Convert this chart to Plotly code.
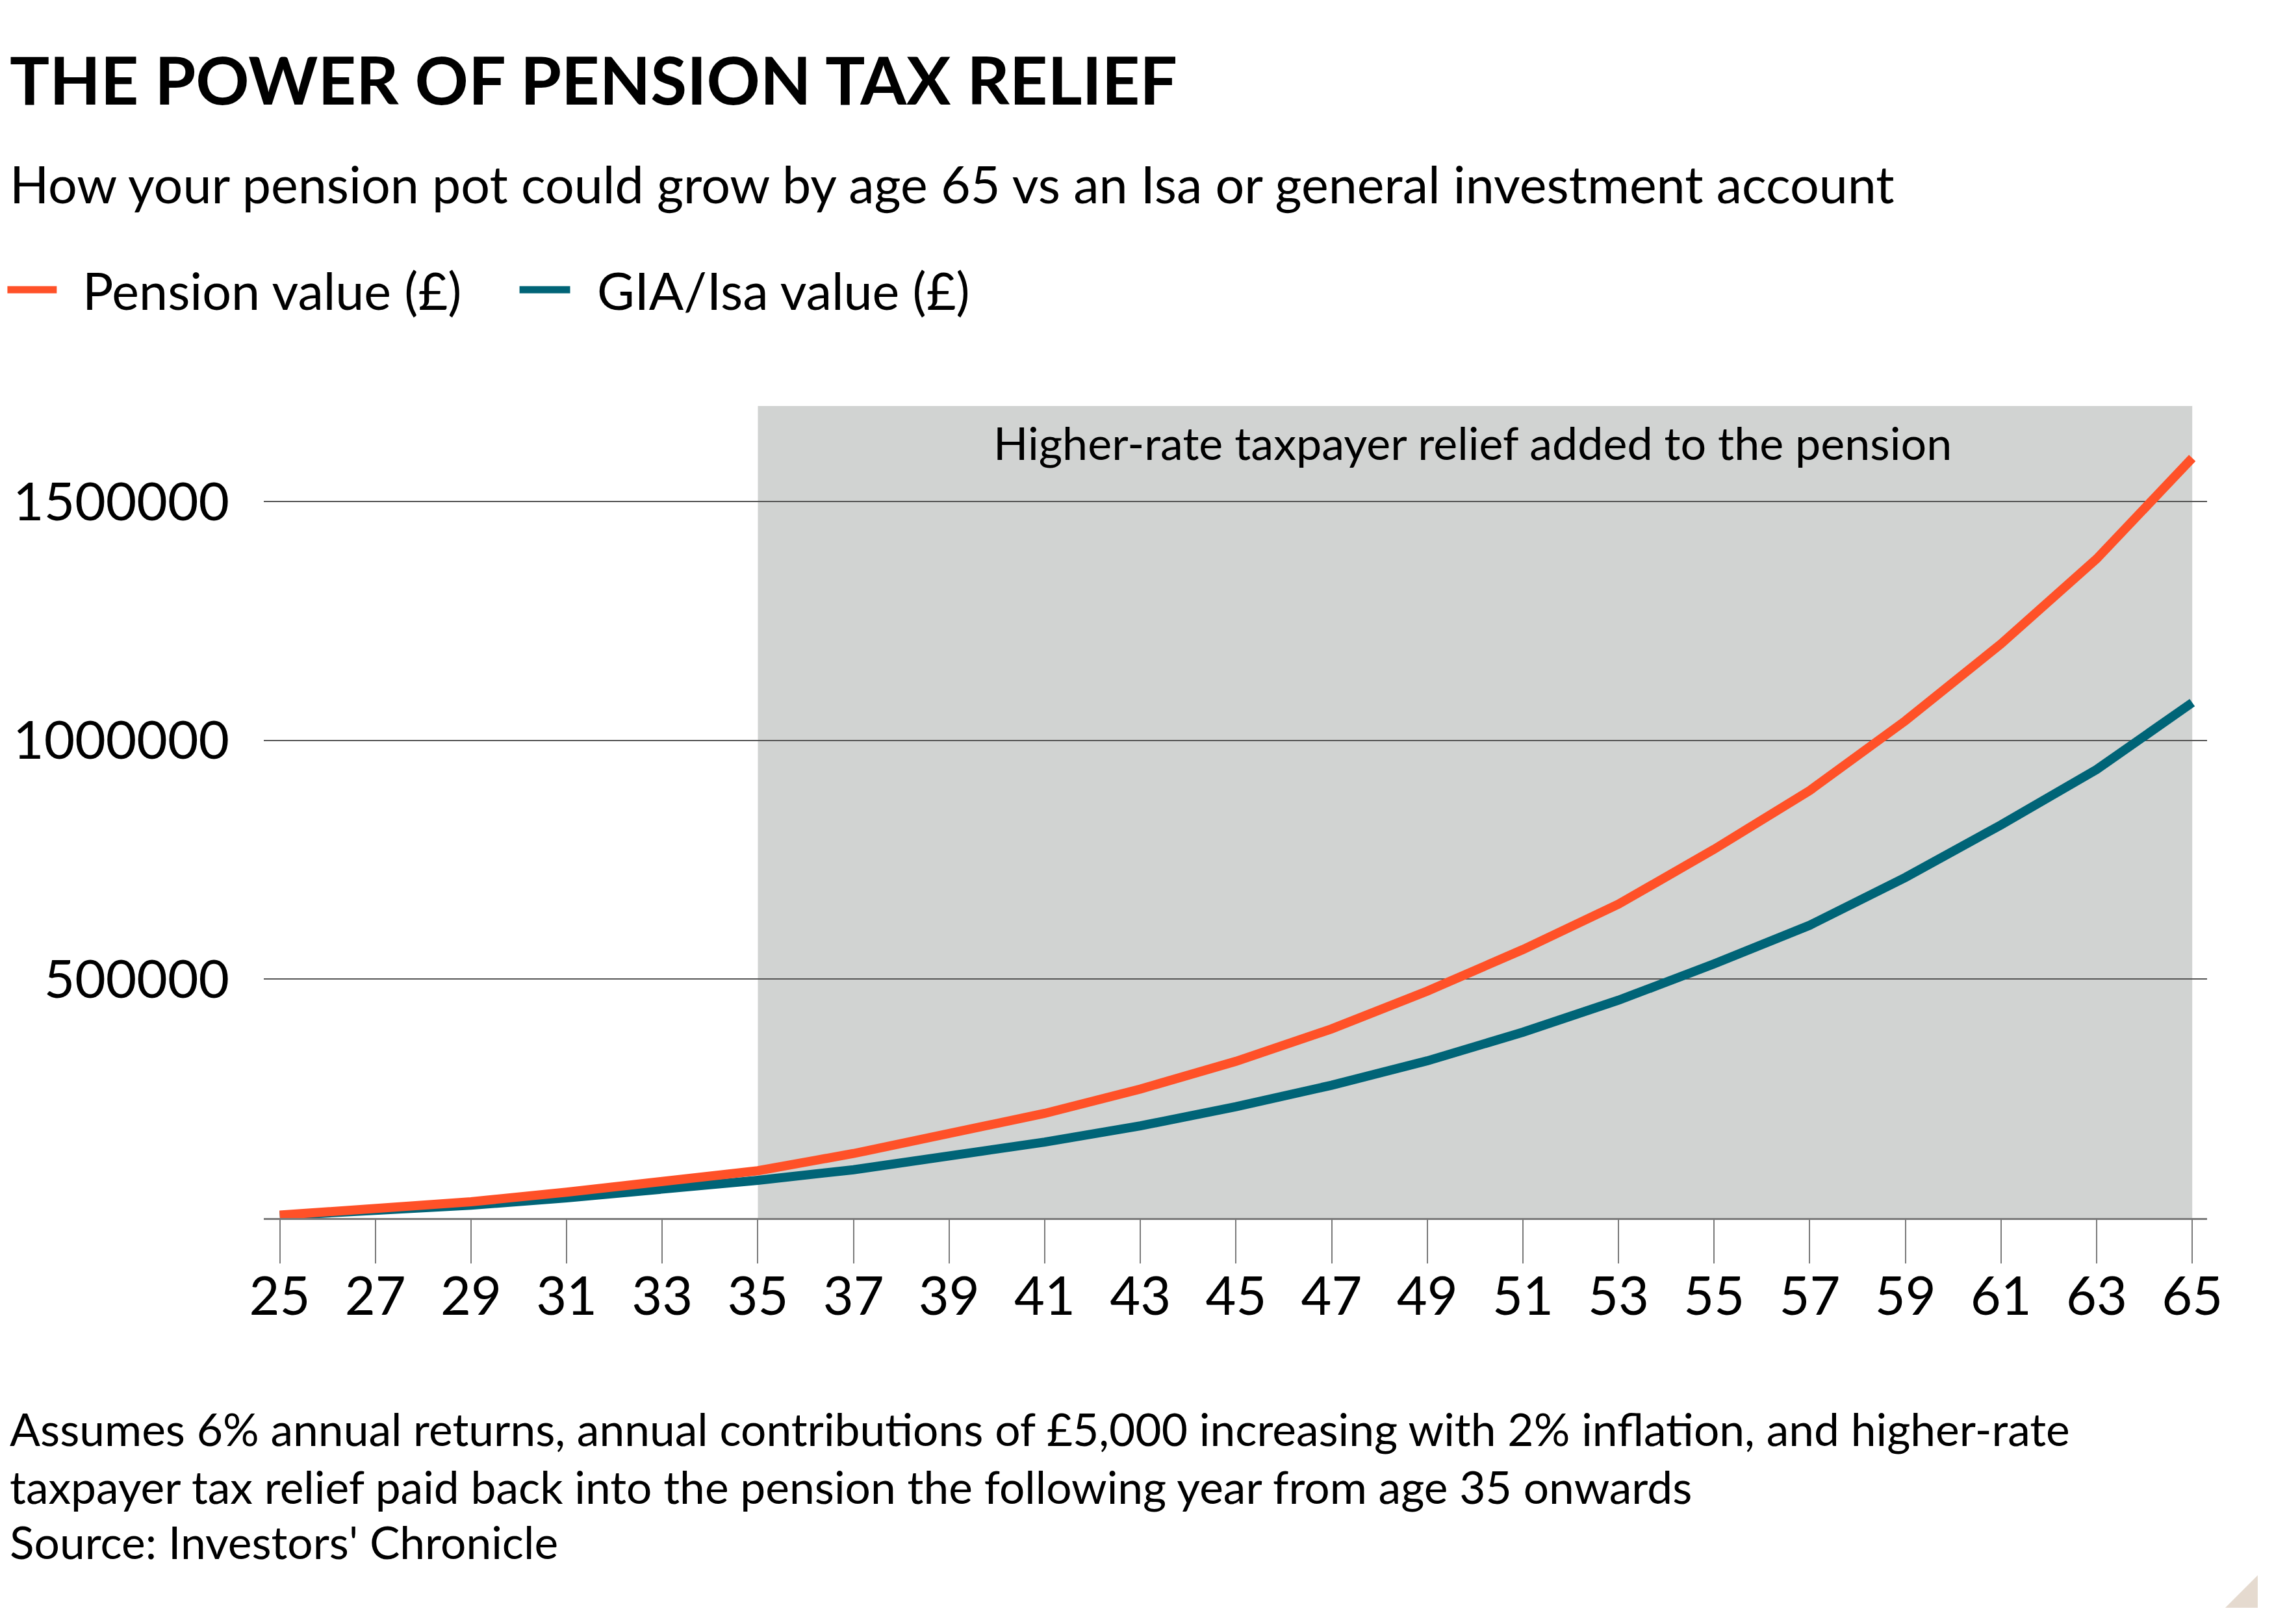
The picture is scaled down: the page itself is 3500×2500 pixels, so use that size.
import plotly.graph_objs as go

ages = [25, 27, 29, 31, 33, 35, 37, 39, 41, 43, 45, 47, 49, 51, 53, 55, 57, 59, 61, 63, 65]
pension = [6000, 18000, 34000, 54000, 76000, 99000, 135000, 175000, 219000, 270000, 328000,
           396000, 475000, 562000, 657000, 772000, 895000, 1041000, 1202000, 1380000, 1591000]
gia = [5000, 14000, 27000, 42000, 60000, 79000, 101000, 128000, 159000, 193000, 233000,
       278000, 329000, 389000, 456000, 532000, 613000, 713000, 823000, 939000, 1079000]
names = ["Pension value (£)", "GIA/Isa value (£)"]
colors = ["#ff5128", "#006477"]
yticks = [500000, 1000000, 1500000]

# the page body has an 8px margin, so the figure is drawn 8px in from the window edge
OFF = 8
FW, FH = 3500 - 2 * OFF, 2500 - 2 * OFF

# plot area in window pixels
L, R, T, B = 403, 3397, 625, 1875
W, H = R - L, B - T

def px(x):
    return (x - L) / W

def py(y):
    return (B - y) / H

sans = "Lato"
LEFT = OFF + 2  # left edge for the texts (keeps them inside the figure)

fig = go.Figure()
fig.add_trace(go.Scatter(x=ages, y=gia, mode="lines", name=names[1],
                         line=dict(color=colors[1], width=14)))
fig.add_trace(go.Scatter(x=ages, y=pension, mode="lines", name=names[0],
                         line=dict(color=colors[0], width=14)))

shapes = [
    dict(type="rect", xref="x", yref="paper", x0=35, x1=65, y0=0, y1=1,
         fillcolor="#d1d3d2", line=dict(width=0), layer="below"),
    dict(type="line", xref="paper", yref="paper", x0=px(OFF), x1=px(84), y0=py(446), y1=py(446),
         line=dict(color=colors[0], width=11)),
    dict(type="line", xref="paper", yref="paper", x0=px(797), x1=px(875), y0=py(446), y1=py(446),
         line=dict(color=colors[1], width=11)),
    dict(type="path", xref="paper", yref="paper",
         path="M %f,%f L %f,%f L %f,%f Z" % (px(3425), py(2475), px(3475), py(2475), px(3475), py(2425)),
         fillcolor="#e5dacf", line=dict(width=0)),
]

annotations = [
    dict(text="<b>THE POWER OF PENSION TAX RELIEF</b>", x=px(LEFT), y=py(122), xanchor="left", yanchor="middle",
         font=dict(family=sans, size=102, color="#000000")),
    dict(text="How your pension pot could grow by age 65 vs an Isa or general investment account",
         x=px(LEFT), y=py(283), xanchor="left", yanchor="middle",
         font=dict(family=sans, size=79, color="#000000")),
    dict(text=names[0], x=px(122), y=py(446), xanchor="left", yanchor="middle",
         font=dict(family=sans, size=79, color="#000000")),
    dict(text=names[1], x=px(915), y=py(446), xanchor="left", yanchor="middle",
         font=dict(family=sans, size=79, color="#000000")),
    dict(text="Higher-rate taxpayer relief added to the pension", x=px(2265), y=py(681),
         xanchor="center", yanchor="middle",
         font=dict(family=sans, size=70, color="#000000")),
    dict(text="Assumes 6% annual returns, annual contributions of £5,000 increasing with 2% inflation, and higher-rate",
         x=px(LEFT), y=py(2199), xanchor="left", yanchor="middle",
         font=dict(family=sans, size=69.5, color="#000000")),
    dict(text="taxpayer tax relief paid back into the pension the following year from age 35 onwards",
         x=px(LEFT), y=py(2288), xanchor="left", yanchor="middle",
         font=dict(family=sans, size=69.5, color="#000000")),
    dict(text="Source: Investors' Chronicle",
         x=px(LEFT), y=py(2373), xanchor="left", yanchor="middle",
         font=dict(family=sans, size=69.5, color="#000000")),
]
for a in annotations:
    a.update(xref="paper", yref="paper", showarrow=False)

layout = go.Layout(
    width=FW, height=FH,
    margin=dict(l=L - OFF, r=FW - (R - OFF), t=T - OFF, b=FH - (B - OFF)),
    paper_bgcolor="#ffffff", plot_bgcolor="rgba(0,0,0,0)",
    showlegend=False,
    shapes=shapes, annotations=annotations,
    xaxis=dict(range=[24.666, 65.31], tickvals=ages, ticktext=[str(a) for a in ages],
               ticks="outside", ticklen=67, tickwidth=2, tickcolor="#7a7a7a",
               ticklabelstandoff=-18,
               showline=True, linecolor="#7a7a7a", linewidth=3, showgrid=False, zeroline=False,
               tickfont=dict(family=sans, size=81, color="#000000")),
    yaxis=dict(range=[0, 1700000], tickvals=yticks, ticktext=[str(v) for v in yticks],
               showgrid=True, gridcolor="#555555", gridwidth=2, zeroline=False,
               ticks="", ticklabelstandoff=52,
               tickfont=dict(family=sans, size=82, color="#000000")),
)

fig = go.Figure(data=fig.data, layout=layout)
fig.write_html("out.html")
